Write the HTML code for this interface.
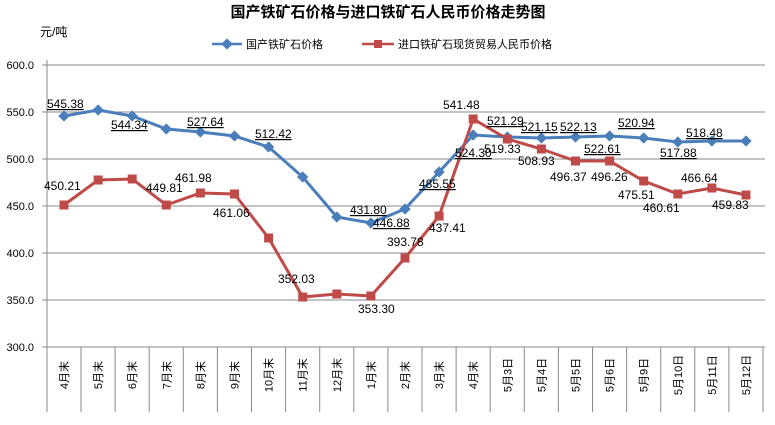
<!DOCTYPE html>
<html><head><meta charset="utf-8"><style>
body{margin:0;background:#fff}
text{font-family:"Liberation Sans","Noto Sans CJK SC",sans-serif;font-size:11px;fill:#000}
.lab text{font-size:12px}
.u{text-decoration:underline}
</style></head><body>
<svg width="775" height="420" xmlns="http://www.w3.org/2000/svg">
<rect width="775" height="420" fill="#fff"/>
<text x="388" y="17" text-anchor="middle" style="font-size:15px;font-weight:bold">国产铁矿石价格与进口铁矿石人民币价格走势图</text>
<text x="40" y="36" style="font-size:12px">元/吨</text>
<line x1="212" y1="44" x2="242" y2="44" stroke="#4a7ebb" stroke-width="2.5"/><rect x="223" y="40" width="8" height="8" fill="#4a7ebb" transform="rotate(45 227 44)"/>
<text x="246" y="48">国产铁矿石价格</text>
<line x1="362" y1="44" x2="394" y2="44" stroke="#be4b48" stroke-width="2.5"/><rect x="374" y="40" width="8" height="8" fill="#be4b48"/>
<text x="398" y="48">进口铁矿石现货贸易人民币价格</text>
<g stroke="#888" stroke-width="1">
<line x1="42" y1="65" x2="765" y2="65"/><line x1="42" y1="112" x2="765" y2="112"/><line x1="42" y1="159" x2="765" y2="159"/><line x1="42" y1="206" x2="765" y2="206"/><line x1="42" y1="253" x2="765" y2="253"/><line x1="42" y1="300" x2="765" y2="300"/><line x1="42" y1="347" x2="765" y2="347"/>
<line x1="47" y1="60" x2="47" y2="412"/>
</g>
<g id="ticks" stroke="#888"></g>
<g text-anchor="end">
<text x="34" y="69">600.0</text><text x="34" y="116">550.0</text><text x="34" y="163">500.0</text><text x="34" y="210">450.0</text><text x="34" y="257">400.0</text><text x="34" y="304">350.0</text><text x="34" y="351">300.0</text>
</g>
<g id="xl"></g>
<polyline id="bl" fill="none" stroke="#4a7ebb" stroke-width="3"/>
<polyline id="rl" fill="none" stroke="#be4b48" stroke-width="3"/>
<g id="bm" fill="#4a7ebb"></g><g id="rm" fill="#be4b48"></g>
<g class="lab">
<text x="47" y="108" class="u">545.38</text>
<text x="111" y="129" class="u">544.34</text>
<text x="187" y="126" class="u">527.64</text>
<text x="255" y="138" class="u">512.42</text>
<text x="44" y="190">450.21</text>
<text x="146" y="192">449.81</text>
<text x="175" y="182">461.98</text>
<text x="213" y="217">461.06</text>
<text x="278" y="283">352.03</text>
<text x="350" y="214" class="u">431.80</text>
<text x="373" y="227" class="u">446.88</text>
<text x="358" y="313">353.30</text>
<text x="387" y="246">393.78</text>
<text x="419" y="188" class="u">485.55</text>
<text x="429" y="232">437.41</text>
<text x="455" y="157" class="u">524.30</text>
<text x="443" y="109">541.48</text>
<text x="487" y="125" class="u">521.29</text>
<text x="484" y="153">519.33</text>
<text x="521" y="131" class="u">521.15</text>
<text x="518" y="165">508.93</text>
<text x="560" y="131" class="u">522.13</text>
<text x="550" y="181">496.37</text>
<text x="584" y="153" class="u">522.61</text>
<text x="591" y="181">496.26</text>
<text x="618" y="127" class="u">520.94</text>
<text x="618" y="199">475.51</text>
<text x="660" y="157" class="u">517.88</text>
<text x="643" y="212">460.61</text>
<text x="686" y="137" class="u">518.48</text>
<text x="681" y="182">466.64</text>
<text x="712" y="209">459.83</text>
</g>
<script>
var ns="http://www.w3.org/2000/svg";
var labs=["4月末","5月末","6月末","7月末","8月末","9月末","10月末","11月末","12月末","1月末","2月末","3月末","4月末","5月3日","5月4日","5月5日","5月6日","5月9日","5月10日","5月11日","5月12日"];
var by=[116,110,116,129,132,136,147,177,217,223,209,172,135,137,138,137,136,138,142,141,141];
var ry=[205,180,179,205,193,194,238,297,294,296,258,216,119,139,149,161,161,181,194,188,195];
var bp=[],rp=[];
var tk=document.getElementById("ticks"),xl=document.getElementById("xl"),bm=document.getElementById("bm"),rm=document.getElementById("rm");
for(var i=0;i<21;i++){
 var x=64+34.1*i;
 bp.push(x+","+by[i]);rp.push(x+","+ry[i]);
 var l=document.createElementNS(ns,"line");var lx=x+17;
 l.setAttribute("x1",lx);l.setAttribute("x2",lx);l.setAttribute("y1",347);l.setAttribute("y2",412);tk.appendChild(l);
 var t=document.createElementNS(ns,"text");t.setAttribute("text-anchor","middle");
 t.setAttribute("transform","translate("+(x+4)+",375) rotate(-90)");t.textContent=labs[i];xl.appendChild(t);
 var d=document.createElementNS(ns,"rect");d.setAttribute("x",x-4);d.setAttribute("y",by[i]-4);d.setAttribute("width",8);d.setAttribute("height",8);d.setAttribute("transform","rotate(45 "+x+" "+by[i]+")");bm.appendChild(d);
 var r=document.createElementNS(ns,"rect");r.setAttribute("x",x-4.5);r.setAttribute("y",ry[i]-4.5);r.setAttribute("width",9);r.setAttribute("height",9);rm.appendChild(r);
}
document.getElementById("bl").setAttribute("points",bp.join(" "));
document.getElementById("rl").setAttribute("points",rp.join(" "));
</script>
</svg>
</body></html>
